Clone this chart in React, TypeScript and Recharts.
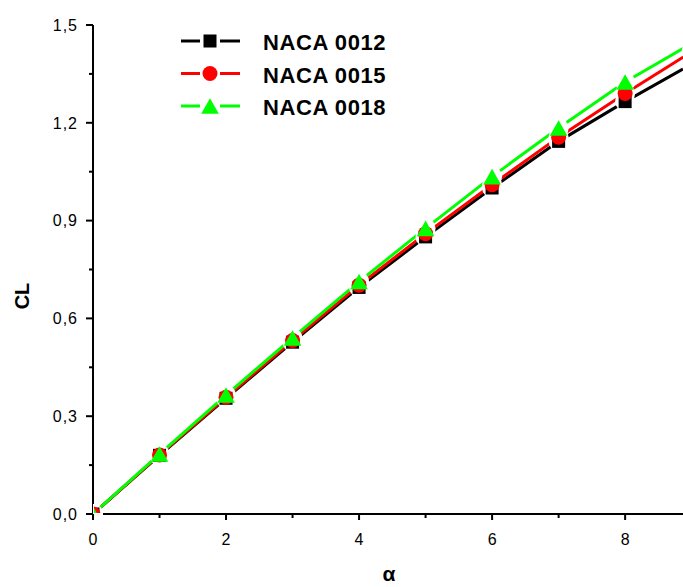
import React from "react"
import { LineChart, Line, XAxis, YAxis, Legend } from "recharts"

// angle of attack (deg) and lift coefficient for each profile
const alpha = [0, 1, 2, 3, 4, 5, 6, 7, 8, 9]
const naca0012 = [0, 0.18, 0.355, 0.527, 0.695, 0.85, 1.0, 1.143, 1.265, 1.38]
const naca0015 = [0, 0.181, 0.358, 0.532, 0.702, 0.86, 1.01, 1.156, 1.29, 1.418]
const naca0018 = [0, 0.184, 0.365, 0.54, 0.713, 0.876, 1.035, 1.184, 1.325, 1.443]

const xTicks = [0, 1, 2, 3, 4, 5, 6, 7, 8]
const xLabels = ["0", "", "2", "", "4", "", "6", "", "8"]
const yTicks = [0, 0.15, 0.3, 0.45, 0.6, 0.75, 0.9, 1.05, 1.2, 1.35, 1.5]
const yLabels = ["0,0", "", "0,3", "", "0,6", "", "0,9", "", "1,2", "", "1,5"]

const FONT = '"Liberation Sans", Arial, sans-serif'

type Shape = "square" | "circle" | "triangle"

const series: { key: string; name: string; color: string; shape: Shape }[] = [
  { key: "naca0012", name: "NACA 0012", color: "#000000", shape: "square" },
  { key: "naca0015", name: "NACA 0015", color: "#ff0000", shape: "circle" },
  { key: "naca0018", name: "NACA 0018", color: "#00ff00", shape: "triangle" },
]

const data = alpha.map((a, i) => ({
  alpha: a,
  naca0012: naca0012[i],
  naca0015: naca0015[i],
  naca0018: naca0018[i],
}))

const Marker = ({ cx, cy, shape, color }: { cx: number; cy: number; shape: Shape; color: string }) => {
  if (shape === "square") {
    return <rect x={cx - 6.5} y={cy - 6.5} width={13} height={13} fill={color} />
  }
  if (shape === "circle") {
    return <circle cx={cx} cy={cy} r={7.5} fill={color} />
  }
  return (
    <polygon
      points={`${cx},${cy - 7.8} ${cx + 8.8},${cy + 7.8} ${cx - 8.8},${cy + 7.8}`}
      fill={color}
    />
  )
}

// white disc that opens the gap in the lines around each symbol
const makeEraser = () => (props: any) => {
  const { cx, cy, index } = props
  if (cx == null || cy == null) return <g key={`e-${index}`} />
  return <circle key={`e-${index}`} cx={cx} cy={cy} r={10} fill="#ffffff" />
}

// the symbol sitting on the origin only shows its upper-right quarter
const makeDot = (key: string, shape: Shape, color: string) => (props: any) => {
  const { cx, cy, index } = props
  if (cx == null || cy == null || index >= xTicks.length) return <g key={`d-${index}`} />
  if (index === 0) {
    const id = `origin-${key}`
    return (
      <g key={`d-${index}`}>
        <defs>
          <clipPath id={id}>
            <rect x={cx + 1} y={cy - 20} width={20} height={19} />
          </clipPath>
        </defs>
        <g clipPath={`url(#${id})`}>
          <Marker cx={cx} cy={cy} shape={shape} color={color} />
        </g>
      </g>
    )
  }
  return (
    <g key={`d-${index}`}>
      <Marker cx={cx} cy={cy} shape={shape} color={color} />
    </g>
  )
}

const XTick = (props: any) => {
  const { x, y, payload } = props
  const i = xTicks.indexOf(payload.value)
  const label = xLabels[i] ?? ""
  return (
    <g>
      <line x1={x} y1={y} x2={x} y2={y + (label ? 6 : 4)} stroke="#000" strokeWidth={2} />
      {label && (
        <text x={x} y={y + 30.5} textAnchor="middle" fontSize={16} fontFamily={FONT} fill="#000">
          {label}
        </text>
      )}
    </g>
  )
}

const YTick = (props: any) => {
  const { x, y, payload } = props
  const i = yTicks.findIndex((t) => Math.abs(t - payload.value) < 1e-6)
  const label = yLabels[i] ?? ""
  return (
    <g>
      <line x1={x - (label ? 7 : 4)} y1={y} x2={x} y2={y} stroke="#000" strokeWidth={2} />
      {label && (
        <text x={x - 15} y={y + 5.7} textAnchor="end" fontSize={16} letterSpacing={1} fontFamily={FONT} fill="#000">
          {label}
        </text>
      )}
    </g>
  )
}

const LegendBox = () => (
  <svg width={240} height={100} style={{ display: "block" }}>
    {series.map((s, i) => {
      const cy = 16 + i * 32.5
      return (
        <g key={s.key}>
          <line x1={6} y1={cy} x2={25} y2={cy} stroke={s.color} strokeWidth={3} />
          <line x1={45} y1={cy} x2={65} y2={cy} stroke={s.color} strokeWidth={3} />
          <Marker cx={35} cy={cy} shape={s.shape} color={s.color} />
          <text
            x={88}
            y={cy + 9}
            fontSize={22}
            fontWeight="bold"
            letterSpacing={0.6}
            fontFamily={FONT}
            fill="#000"
          >
            {s.name}
          </text>
        </g>
      )
    })}
  </svg>
)

export default function App() {
  return (
    <div style={{ position: "absolute", left: 0, top: 0, width: 683, height: 587, background: "#fff" }}>
      <LineChart width={683} height={587} data={data} margin={{ top: 25, right: 0, bottom: 0, left: 0 }}>
        {series.map((s) => (
          <Line
            key={`line-${s.key}`}
            type="linear"
            dataKey={s.key}
            stroke={s.color}
            strokeWidth={3}
            dot={false}
            activeDot={false}
            legendType="none"
            isAnimationActive={false}
          />
        ))}
        {series.map((s) => (
          <Line
            key={`gap-${s.key}`}
            type="linear"
            dataKey={s.key}
            stroke="none"
            dot={makeEraser()}
            activeDot={false}
            legendType="none"
            isAnimationActive={false}
          />
        ))}
        {series.map((s) => (
          <Line
            key={`mark-${s.key}`}
            type="linear"
            dataKey={s.key}
            name={s.name}
            stroke="none"
            dot={makeDot(s.key, s.shape, s.color)}
            activeDot={false}
            isAnimationActive={false}
          />
        ))}
        <XAxis
          type="number"
          dataKey="alpha"
          domain={[0, 8.87]}
          allowDataOverflow
          ticks={xTicks}
          interval={0}
          tick={<XTick />}
          tickLine={false}
          tickSize={0}
          tickMargin={0}
          height={73}
          axisLine={{ stroke: "#000", strokeWidth: 2 }}
          label={{
            content: () => (
              <text x={389} y={581} textAnchor="middle" fontSize={21} fontWeight="bold" fontFamily={FONT} fill="#000">
                α
              </text>
            ),
          }}
        />
        <YAxis
          type="number"
          domain={[0, 1.5]}
          ticks={yTicks}
          interval={0}
          tick={<YTick />}
          tickLine={false}
          tickSize={0}
          tickMargin={0}
          width={93}
          axisLine={{ stroke: "#000", strokeWidth: 2 }}
          label={{
            content: () => (
              <text
                x={29}
                y={296}
                transform="rotate(-90, 29, 296)"
                textAnchor="middle"
                fontSize={20}
                fontWeight="bold"
                fontFamily={FONT}
                fill="#000"
              >
                CL
              </text>
            ),
          }}
        />
        <Legend
          layout="horizontal"
          verticalAlign="middle"
          align="center"
          wrapperStyle={{ left: 175, top: 25, width: 240, height: 100 }}
          content={() => <LegendBox />}
        />
      </LineChart>
    </div>
  )
}
